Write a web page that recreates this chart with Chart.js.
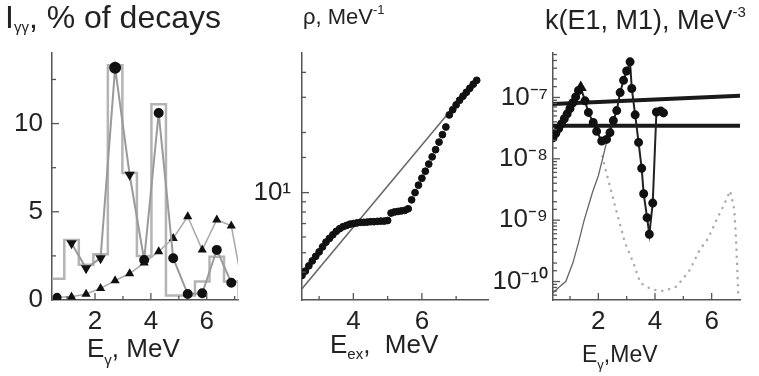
<!DOCTYPE html>
<html>
<head>
<meta charset="utf-8">
<script src="https://cdn.jsdelivr.net/npm/chart.js@4.4.1/dist/chart.umd.min.js"></script>
<style>
body { margin: 0; background: #fff; }
#wrap { position: relative; width: 759px; height: 376px; overflow: hidden;
        font-family: 'Liberation Sans', Arial, sans-serif; color: #222; }
canvas { position: absolute; top: 0; }
.t { position: absolute; line-height: 1; white-space: nowrap; }
.t sub, .t sup { line-height: 0; }
</style>
</head>
<body>
<div id="wrap">
  <canvas id="c1" width="250" height="376" style="left:0px"></canvas>
  <canvas id="c2" width="245" height="376" style="left:250px"></canvas>
  <canvas id="c3" width="279" height="376" style="left:480px"></canvas>

  <div class="t" style="left:5px;top:1px;font-size:32px">I<sub style="font-size:15px;vertical-align:-4px">γγ</sub>, % of decays</div>
  <div class="t" style="left:303px;top:6px;font-size:22px">ρ, MeV<sup style="font-size:13px;vertical-align:10px">-1</sup></div>
  <div class="t" style="left:545px;top:7px;font-size:27px">k(E1, M1), MeV<sup style="font-size:15px;vertical-align:12px">-3</sup></div>

  <div class="t" style="left:87px;top:335px;font-size:26px">E<sub style="font-size:15px;vertical-align:-8px">γ</sub>, MeV</div>
  <div class="t" style="left:330px;top:331px;font-size:26px">E<sub style="font-size:15px;vertical-align:-6px">ex</sub>,&nbsp; MeV</div>
  <div class="t" style="left:582px;top:343px;font-size:23px">E<sub style="font-size:13px;vertical-align:-7px">γ</sub>,MeV</div>
</div>

<script>
// ---- panel 1: intensities of two-step cascades
var binE = [0.64, 1.16, 1.68, 2.20, 2.72, 3.24, 3.76, 4.28, 4.80, 5.32, 5.84, 6.36, 6.88];
var binWidth = 0.52;
var histI = [1.2, 3.4, 2.0, 2.6, 13.3, 7.2, 2.5, 11.1, 0.25, 0.25, 1.05, 2.45, 1.05];
var expI = [null, 3.22, 1.8, 2.37, 13.16, 7.1, 2.27, 10.6, 2.37, 0.34, 0.38, 2.84, 0.98];
var calcE = [0.64, 1.16, 1.68, 2.20, 2.72, 3.24, 3.76, 4.28, 4.80, 5.32, 5.84, 6.36, 6.88, 7.15];
var calcI = [0.15, 0.18, 0.34, 0.66, 1.1, 1.5, 2.1, 2.75, 3.5, 4.73, 2.84, 4.55, 4.2, 1.9];

// ---- panel 2: level density
var rhoE = [2.5, 2.6, 2.7, 2.8, 2.9, 3.0, 3.1, 3.2, 3.3, 3.4, 3.5, 3.6, 3.7, 3.8, 3.9,
            4.0, 4.1, 4.2, 4.3, 4.4, 4.5, 4.6, 4.7, 4.8, 4.9, 5.0, 5.1, 5.2, 5.3, 5.4,
            5.5, 5.6, 5.7, 5.8, 5.9, 6.0, 6.1, 6.2, 6.3, 6.4, 6.5, 6.6, 6.7, 6.8, 6.9,
            7.0, 7.1, 7.2, 7.3, 7.4, 7.5, 7.6];
var rhoVal = [3.85, 4.05, 4.3, 4.55, 4.8, 5.05, 5.35, 5.65, 5.9, 6.15, 6.4, 6.6, 6.75, 6.85, 6.95,
              7.0, 7.05, 7.1, 7.1, 7.12, 7.15, 7.15, 7.18, 7.2, 7.2, 7.25, 7.9, 8.0, 8.05, 8.1,
              8.15, 8.3, 9.2, 10.0, 10.9, 11.8, 12.8, 13.9, 15.1, 16.4, 17.9, 19.5, 21.3, 24.5, 26.0,
              27.5, 29.0, 30.4, 31.8, 33.3, 34.9, 36.5];
var modelE = [2.5, 7.35];
var modelRho = [3.3, 32.8];

// ---- panel 3: radiative strength functions
var kE = [0.4, 0.5, 0.6, 0.7, 0.8, 0.9, 1.0, 1.1, 1.2, 1.3, 1.38, 1.53, 1.65, 1.82, 1.94, 2.12, 2.29, 2.41,
          2.53, 2.65, 2.77, 2.89, 3.0, 3.12, 3.18, 3.3, 3.42, 3.53, 3.6, 3.72, 3.8, 3.92, 4.05, 4.2, 4.3];
var kVal = [2.2e-8, 2.6e-8, 3.1e-8, 3.7e-8, 4.5e-8, 5.4e-8, 6.6e-8, 8.2e-8, 1.02e-7, 1.3e-7, 1.45e-7,
            8.8e-8, 5.7e-8, 3.9e-8, 2.8e-8, 1.95e-8, 2.07e-8, 2.67e-8, 4.2e-8, 6.1e-8, 1.2e-7, 1.9e-7,
            2.7e-7, 3.8e-7, 1.4e-7, 5.2e-8, 1.85e-8, 7e-9, 2.7e-9, 1.1e-9, 5.9e-10, 1.9e-9, 5.8e-8,
            6.0e-8, 5.6e-8];
var lineE = [0.4, 7.0];
var kUpper = [7.8e-8, 1.07e-7];
var kLower = [3.45e-8, 3.45e-8];
var thinE = [0.4, 0.6, 0.85, 1.1, 1.3, 1.5, 1.65, 1.8, 2.0, 2.15, 2.29, 2.42];
var thinK = [6.5e-11, 8e-11, 1.0e-10, 2.0e-10, 4.3e-10, 1.0e-9, 1.7e-9, 2.9e-9, 5.3e-9, 1.0e-8, 1.85e-8, 3.3e-8];
var dotE = [2.15, 2.24, 2.59, 2.94, 3.24, 3.48, 3.89, 4.3, 4.77, 5.23, 5.58, 5.88, 6.17, 6.47, 6.65,
            6.8, 6.86, 6.9, 6.94];
var dotK = [1.1e-8, 7.1e-9, 1.7e-9, 4.3e-10, 2.0e-10, 9.5e-11, 7.4e-11, 7e-11, 8.3e-11, 1.55e-10,
            3.3e-10, 5.1e-10, 1.0e-9, 1.93e-9, 3.0e-9, 1.5e-9, 4.8e-10, 1.8e-10, 6e-11];

var fontFam = "'Liberation Sans', Arial, sans-serif";
var axisColor = '#555';
var supMap = {'-': '⁻', '0': '⁰', '1': '¹', '2': '²', '3': '³', '4': '⁴',
              '5': '⁵', '6': '⁶', '7': '⁷', '8': '⁸', '9': '⁹'};

function pts(xs, ys) {
    return xs.map(function(x, i) { return {x: x, y: ys[i]}; });
}

function histPts() {
    var out = [];
    for (var i = 0; i < binE.length; i++) {
        out.push({x: binE[i] - binWidth / 2, y: histI[i]});
        out.push({x: binE[i] + binWidth / 2, y: histI[i]});
    }
    out.push({x: binE[binE.length - 1] + binWidth / 2, y: 0});
    return out;
}

function powLabel(v) {
    var e = Math.log10(v);
    if (Math.abs(e - Math.round(e)) > 1e-6) return '';
    return '10' + String(Math.round(e)).split('').map(function(c) { return supMap[c]; }).join('');
}

function only(list) {
    return function(v) { return list.indexOf(v) >= 0 ? String(v) : ''; };
}

// ticks drawn inside the plot, like the original figure
var innerTicks = {
    id: 'innerTicks',
    afterDraw: function(chart) {
        var ctx = chart.ctx;
        ctx.save();
        ctx.strokeStyle = axisColor;
        ctx.lineWidth = 1.3;
        Object.keys(chart.scales).forEach(function(id) {
            var s = chart.scales[id];
            s.ticks.forEach(function(t) {
                var len = t.label ? 7 : 4;
                var p = s.getPixelForValue(t.value);
                ctx.beginPath();
                if (s.isHorizontal()) {
                    if (p < s.left + 2 || p > s.right - 1) return;
                    ctx.moveTo(p, s.top);
                    ctx.lineTo(p, s.top - len);
                } else {
                    if (p > s.bottom - 2 || p < s.top + 1) return;
                    ctx.moveTo(s.right, p);
                    ctx.lineTo(s.right + len, p);
                }
                ctx.stroke();
            });
        });
        ctx.restore();
    }
};

function xAxis(min, max, labels) {
    return {
        type: 'linear', min: min, max: max,
        grid: {drawOnChartArea: false, drawTicks: false},
        border: {display: true, color: axisColor, width: 1.5},
        ticks: {stepSize: 1, autoSkip: false, includeBounds: false, maxRotation: 0,
                padding: 6, color: '#222', font: {family: fontFam, size: 26},
                callback: only(labels)},
        afterFit: function(s) { s.height = 76; }
    };
}

function yAxis(width, pad, extra) {
    var a = {
        grid: {drawOnChartArea: false, drawTicks: false},
        border: {display: true, color: axisColor, width: 1.5},
        ticks: {autoSkip: false, includeBounds: false, padding: pad, color: '#222',
                font: {family: fontFam, size: 26}},
        afterFit: function(s) { s.width = width; }
    };
    Object.keys(extra).forEach(function(k) {
        if (k === 'ticks') Object.assign(a.ticks, extra.ticks); else a[k] = extra[k];
    });
    return a;
}

function baseOptions(rightPad, scales) {
    return {
        responsive: false, animation: false, devicePixelRatio: 1,
        layout: {padding: {left: 0, top: 53, right: rightPad, bottom: 0}},
        plugins: {legend: {display: false}, tooltip: {enabled: false}},
        scales: scales
    };
}

var downIdx = [1, 2, 3, 5];

new Chart(document.getElementById('c1'), {
    type: 'scatter',
    data: {
        datasets: [{
            data: pts(binE, expI), showLine: true,
            borderColor: '#9a9a9a', borderWidth: 2,
            pointBackgroundColor: '#111', pointBorderColor: '#111',
            pointStyle: function(c) { return downIdx.indexOf(c.dataIndex) >= 0 ? 'triangle' : 'circle'; },
            rotation: function(c) { return downIdx.indexOf(c.dataIndex) >= 0 ? 180 : 0; },
            pointRadius: function(c) { return c.dataIndex === 4 ? 5 : 4; }
        }, {
            data: pts(calcE, calcI), showLine: true,
            borderColor: '#a8a8a8', borderWidth: 1.5,
            pointBackgroundColor: '#111', pointBorderColor: '#111',
            pointStyle: function(c) { return c.dataIndex === 0 ? 'circle' : 'triangle'; },
            pointRadius: function(c) { return c.dataIndex === calcE.length - 1 ? 0 : 3.8; }
        }, {
            data: histPts(), showLine: true,
            borderColor: '#b4b4b4', borderWidth: 2.5, pointRadius: 0
        }]
    },
    options: baseOptions(12, {
        x: xAxis(0.46, 7.12, [2, 4, 6]),
        y: yAxis(52, 9, {type: 'linear', min: 0, max: 14,
                         ticks: {stepSize: 2.5, callback: only([0, 5, 10])}})
    }),
    plugins: [innerTicks]
});

new Chart(document.getElementById('c2'), {
    type: 'scatter',
    data: {
        datasets: [{
            data: pts(rhoE, rhoVal),
            pointBackgroundColor: '#111', pointBorderColor: '#111', pointRadius: 3.4
        }, {
            data: pts(modelE, modelRho), showLine: true,
            borderColor: '#666', borderWidth: 1.5, pointRadius: 0
        }]
    },
    options: baseOptions(7, {
        x: xAxis(2.5, 7.93, [4, 6]),
        y: yAxis(52, 11, {type: 'logarithmic', min: 2.9, max: 50,
                          ticks: {callback: powLabel}})
    }),
    plugins: [innerTicks]
});

new Chart(document.getElementById('c3'), {
    type: 'scatter',
    data: {
        datasets: [{
            data: pts(kE, kVal), showLine: true,
            borderColor: '#222', borderWidth: 2,
            pointBackgroundColor: '#111', pointBorderColor: '#111',
            pointStyle: function(c) { return c.dataIndex === 10 ? 'triangle' : 'circle'; },
            pointRadius: function(c) { return c.dataIndex === 10 ? 5 : 3.5; }
        }, {
            data: pts(lineE, kUpper), showLine: true,
            borderColor: '#1a1a1a', borderWidth: 4, pointRadius: 0
        }, {
            data: pts(lineE, kLower), showLine: true,
            borderColor: '#1a1a1a', borderWidth: 4, pointRadius: 0
        }, {
            data: pts(thinE, thinK), showLine: true,
            borderColor: '#666', borderWidth: 1.3, pointRadius: 0
        }, {
            data: pts(dotE, dotK), showLine: true,
            borderColor: '#ababab', borderWidth: 2.5, borderDash: [0.1, 7],
            borderCapStyle: 'round', pointRadius: 0
        }]
    },
    options: baseOptions(19, {
        x: xAxis(0.4, 7.0, [2, 4, 6]),
        y: yAxis(73, 5, {type: 'logarithmic', min: 5e-11, max: 5.3e-7,
                         ticks: {callback: powLabel}})
    }),
    plugins: [innerTicks]
});
</script>
</body>
</html>
